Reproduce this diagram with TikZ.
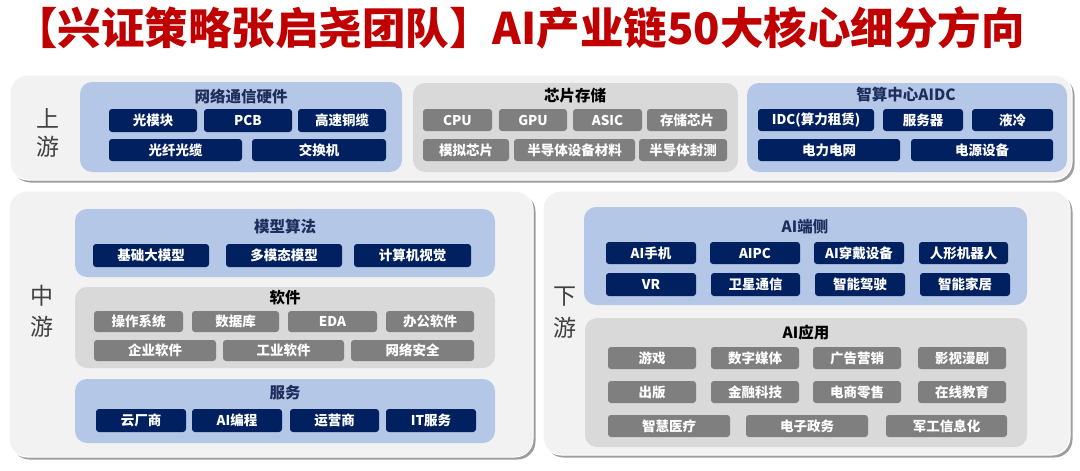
\documentclass[tikz,border=0pt]{standalone}
\usepackage{fontspec}
\setmainfont{Noto Sans CJK SC}
\usetikzlibrary{shadows}
\definecolor{panelbg}{HTML}{F2F2F2}
\definecolor{bluebg}{HTML}{B4C7E7}
\definecolor{graybg}{HTML}{D9D9D9}
\definecolor{navy}{HTML}{002060}
\definecolor{boxgray}{HTML}{7F7F7F}
\definecolor{titlenavy}{HTML}{1F2D5C}
\definecolor{sidegray}{HTML}{404040}
\definecolor{titlered}{HTML}{C00000}
\tikzset{
  panel/.style={fill=panelbg, draw=white, line width=1pt, rounded corners=18pt,
    drop shadow={shadow xshift=2.5pt, shadow yshift=-2.5pt, fill=black!55, opacity=0.7}},
  bluec/.style={fill=bluebg, rounded corners=12pt},
  grayc/.style={fill=graybg, rounded corners=12pt},
  nbox/.style={fill=navy, rounded corners=3pt, text=white, font=\bfseries\fontsize{13.5}{14}\selectfont},
  gbox/.style={fill=boxgray, rounded corners=3pt, text=white, font=\bfseries\fontsize{13.5}{14}\selectfont},
  btitle/.style={font=\bfseries\fontsize{15.5}{16}\selectfont, text=titlenavy},
  gtitle/.style={font=\bfseries\fontsize{15.5}{16}\selectfont, text=black},
  side/.style={font=\fontsize{23}{23}\selectfont, text=sidegray},
}
\newcommand\bx[7]{%
  \pgfmathsetmacro\bxw{#5-#3}\pgfmathsetmacro\bxh{#6-#4}%
  \node[#1, minimum width=\bxw pt, minimum height=\bxh pt, inner sep=0pt, anchor=center]
    (#2) at ({(#3+#5)/2},{(#4+#6)/2}) {#7};}
\begin{document}
\begin{tikzpicture}[x=1pt,y=-1pt]
\useasboundingbox (0,0) rectangle (1080,471);
% title
\node[anchor=west, text=titlered, font=\bfseries\fontsize{43.5}{44}\selectfont, inner sep=0pt] (title) at (14,28) {【兴证策略张启尧团队】AI产业链50大核心细分方向};

% panels
\bx{panel}{pUp}{10}{75}{1072}{180}{}
\bx{panel}{pMid}{9}{191}{533}{457}{}
\bx{panel}{pDown}{543}{191}{1070}{455}{}

% side labels
\node[side] (s1) at (48,118) {上};
\node[side] (s2) at (48,147) {游};
\node[side] (s3) at (42,296) {中};
\node[side] (s4) at (42,327) {游};
\node[side] (s5) at (565,297) {下};
\node[side] (s6) at (565,328) {游};

% upstream: 网络通信硬件
\bx{bluec}{cNet}{80}{82}{402}{172}{}
\node[btitle] (tNet) at (241,97) {网络通信硬件};
\bx{nbox}{a1}{109}{109}{197}{132}{光模块}
\bx{nbox}{a2}{204}{109}{292}{132}{PCB}
\bx{nbox}{a3}{298}{109}{386}{132}{高速铜缆}
\bx{nbox}{a4}{109}{139}{242}{161}{光纤光缆}
\bx{nbox}{a5}{252}{139}{386}{161}{交换机}

% 芯片存储
\bx{grayc}{cChip}{413}{83}{738}{172}{}
\node[gtitle] (tChip) at (575,96) {芯片存储};
\bx{gbox}{b1}{423}{109}{492}{131}{CPU}
\bx{gbox}{b2}{499}{109}{567}{131}{GPU}
\bx{gbox}{b3}{573}{109}{642}{131}{ASIC}
\bx{gbox}{b4}{647}{109}{727}{131}{存储芯片}
\bx{gbox}{b5}{423}{139}{509}{161}{模拟芯片}
\bx{gbox}{b6}{514}{139}{635}{161}{半导体设备材料}
\bx{gbox}{b7}{639}{139}{727}{161}{半导体封测}

% 智算中心AIDC
\bx{bluec}{cAidc}{747}{83}{1067}{172}{}
\node[btitle] (tAidc) at (906,95) {智算中心AIDC};
\bx{nbox}{c1}{758}{109}{874}{131}{IDC(算力租赁)}
\bx{nbox}{c2}{883}{109}{963}{131}{服务器}
\bx{nbox}{c3}{972}{109}{1053}{131}{液冷}
\bx{nbox}{c4}{758}{139}{900}{161}{电力电网}
\bx{nbox}{c5}{911}{139}{1053}{161}{电源设备}

% midstream: 模型算法
\bx{bluec}{cModel}{75}{209}{495}{277}{}
\node[btitle] (tModel) at (285,227) {模型算法};
\bx{nbox}{d1}{93}{244}{209}{267}{基础大模型}
\bx{nbox}{d2}{226}{244}{342}{267}{多模态模型}
\bx{nbox}{d3}{354}{244}{471}{267}{计算机视觉}

% 软件
\bx{grayc}{cSoft}{75}{287}{495}{368}{}
\node[gtitle] (tSoft) at (285,298) {软件};
\bx{gbox}{e1}{94}{311}{183}{332}{操作系统}
\bx{gbox}{e2}{192}{311}{279}{332}{数据库}
\bx{gbox}{e3}{288}{311}{377}{332}{EDA}
\bx{gbox}{e4}{386}{311}{474}{332}{办公软件}
\bx{gbox}{e5}{94}{340}{216}{361}{企业软件}
\bx{gbox}{e6}{223}{340}{344}{361}{工业软件}
\bx{gbox}{e7}{351}{340}{474}{361}{网络安全}

% 服务
\bx{bluec}{cServ}{75}{379}{495}{443}{}
\node[btitle] (tServ) at (285,393) {服务};
\bx{nbox}{f1}{96}{409}{186}{432}{云厂商}
\bx{nbox}{f2}{192}{409}{282}{432}{AI编程}
\bx{nbox}{f3}{290}{409}{379}{432}{运营商}
\bx{nbox}{f4}{386}{409}{476}{432}{IT服务}

% downstream: AI端侧
\bx{bluec}{cEdge}{584}{207}{1027}{305}{}
\node[btitle] (tEdge) at (805,227) {AI端侧};
\bx{nbox}{g1}{606}{242}{696}{264}{AI手机}
\bx{nbox}{g2}{710}{242}{800}{264}{AIPC}
\bx{nbox}{g3}{814}{242}{904}{264}{AI穿戴设备}
\bx{nbox}{g4}{919}{242}{1008}{264}{人形机器人}
\bx{nbox}{g5}{606}{273}{696}{296}{VR}
\bx{nbox}{g6}{711}{273}{800}{296}{卫星通信}
\bx{nbox}{g7}{815}{273}{905}{296}{智能驾驶}
\bx{nbox}{g8}{920}{273}{1010}{296}{智能家居}

% AI应用
\bx{grayc}{cApp}{585}{318}{1027}{447}{}
\node[gtitle] (tApp) at (806,333) {AI应用};
\bx{gbox}{h1}{608}{347}{696}{369}{游戏}
\bx{gbox}{h2}{711}{347}{799}{369}{数字媒体}
\bx{gbox}{h3}{813}{347}{901}{369}{广告营销}
\bx{gbox}{h4}{918}{347}{1006}{369}{影视漫剧}
\bx{gbox}{h5}{608}{381}{696}{403}{出版}
\bx{gbox}{h6}{711}{381}{799}{403}{金融科技}
\bx{gbox}{h7}{813}{381}{901}{403}{电商零售}
\bx{gbox}{h8}{918}{381}{1006}{403}{在线教育}
\bx{gbox}{h9}{608}{415}{730}{437}{智慧医疗}
\bx{gbox}{h10}{746}{415}{868}{437}{电子政务}
\bx{gbox}{h11}{886}{415}{1007}{437}{军工信息化}
\end{tikzpicture}
\end{document}
